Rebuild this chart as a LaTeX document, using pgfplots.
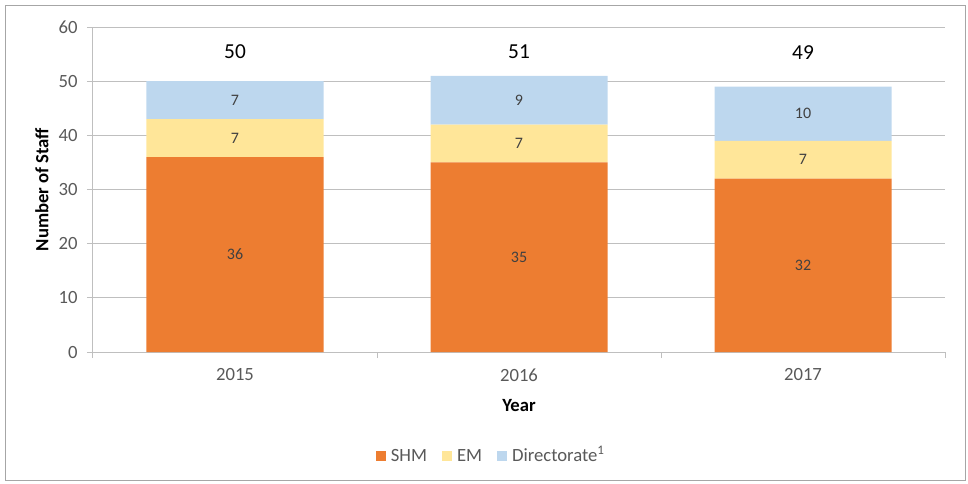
\documentclass[border=0pt]{standalone}
\usepackage{pgfplots}
\pgfplotsset{compat=1.18}
\usepackage{fontspec}
\setmainfont{Carlito}
\definecolor{shm}{HTML}{ED7D31}
\definecolor{em}{HTML}{FFE699}
\definecolor{dir}{HTML}{BDD7EE}
\definecolor{gridc}{HTML}{BFBFBF}
\definecolor{tickc}{HTML}{595959}
\definecolor{labc}{HTML}{404040}
\pgfplotsset{sqlegend/.style={legend image code/.code={\fill[##1] (0pt,-4pt) rectangle (8pt,4pt);}}}
\begin{document}
\begin{tikzpicture}
\useasboundingbox (0,0) rectangle (726pt,-362.25pt);
\draw[color=gray!70, line width=0.75pt] (3.75pt,-3.75pt) rectangle (723.75pt,-360pt);
\begin{axis}[
  at={(69.75pt,-264pt)}, anchor=south west,
  scale only axis, width=639pt, height=243.75pt,
  ybar stacked, bar width=132.75pt,
  xmin=-0.5, xmax=2.5, ymin=0, ymax=60,
  ytick={0,10,...,60},
  xtick={-0.5,0.5,1.5,2.5}, xticklabels={},
  extra x ticks={0,1,2}, extra x tick labels={2015,2016,2017},
  extra x tick style={major tick length=0pt},
  major tick length=4.5pt, tick align=outside,
  tick style={draw=gridc, line width=0.75pt},
  axis x line*=bottom, axis y line*=left,
  axis line style={draw=gridc, line width=0.75pt},
  ymajorgrids, grid style={draw=gridc, line width=0.75pt},
  /pgf/number format/assume math mode=true,
  tick label style={font=\fontsize{14}{16}\selectfont, text=tickc},
  xticklabel style={yshift=-9pt},
  yticklabel style={xshift=-3.5pt},
  ylabel={\textbf{Number of Staff}},
  ylabel style={at={(axis description cs:-0.0599,0.5)}, anchor=center, rotate=0, font=\fontsize{14}{16}\selectfont},
  xlabel={\textbf{Year}},
  xlabel style={at={(axis description cs:0.5,-0.166)}, anchor=center, font=\fontsize{14}{16}\selectfont},
  legend style={at={(0.4677,-0.32)}, anchor=center, legend columns=-1, draw=none,
    font=\fontsize{14}{16}\selectfont, text=tickc,
    nodes={text height=11pt, text depth=3pt},
    /tikz/every odd column/.append style={column sep=1.5pt},
    /tikz/every even column/.append style={column sep=9pt}},
  after end axis/.code={
    \node[font=\fontsize{12}{14}\selectfont, text=labc] at (axis cs:0,18) {36};
    \node[font=\fontsize{12}{14}\selectfont, text=labc] at (axis cs:0,39.5) {7};
    \node[font=\fontsize{12}{14}\selectfont, text=labc] at (axis cs:0,46.5) {7};
    \node[font=\fontsize{12}{14}\selectfont, text=labc] at (axis cs:1,17.5) {35};
    \node[font=\fontsize{12}{14}\selectfont, text=labc] at (axis cs:1,38.5) {7};
    \node[font=\fontsize{12}{14}\selectfont, text=labc] at (axis cs:1,46.5) {9};
    \node[font=\fontsize{12}{14}\selectfont, text=labc] at (axis cs:2,16) {32};
    \node[font=\fontsize{12}{14}\selectfont, text=labc] at (axis cs:2,35.5) {7};
    \node[font=\fontsize{12}{14}\selectfont, text=labc] at (axis cs:2,44) {10};
    \node[font=\fontsize{16}{18}\selectfont] at (axis cs:0,55.4) {50};
    \node[font=\fontsize{16}{18}\selectfont] at (axis cs:1,55.4) {51};
    \node[font=\fontsize{16}{18}\selectfont] at (axis cs:2,55.2) {49};
  },
]
\addplot[fill=shm, draw=none, sqlegend] coordinates {(0,36) (1,35) (2,32)};
\addplot[fill=em, draw=none, sqlegend] coordinates {(0,7) (1,7) (2,7)};
\addplot[fill=dir, draw=none, sqlegend] coordinates {(0,7) (1,9) (2,10)};
\legend{SHM, EM, Directorate\textsuperscript{1}}
\end{axis}
\end{tikzpicture}
\end{document}
